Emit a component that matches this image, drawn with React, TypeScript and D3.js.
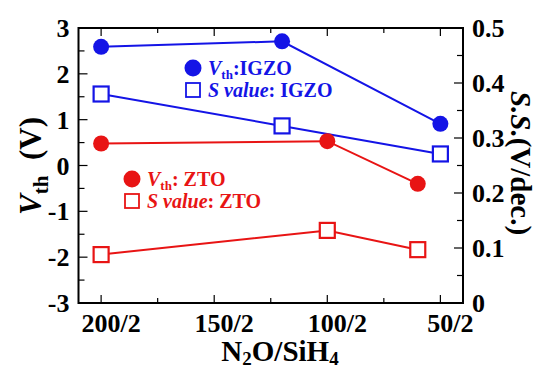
import React from 'react';
import * as d3 from 'd3';

// N2O flow ratios (x) for each material
const igzoRatio = [200, 120, 50];
const ztoRatio = [200, 100, 60];

// threshold voltage (V) and subthreshold swing (V/dec.)
const igzoVth = [2.59, 2.71, 0.91];
const igzoSS = [0.38, 0.322, 0.271];
const ztoVth = [0.48, 0.53, -0.4];
const ztoSS = [0.088, 0.132, 0.097];

const xMajor = [200, 150, 100, 50];
const xMinor = [175, 125, 75];
const xTickLabels = ['200/2', '150/2', '100/2', '50/2'];
const yLeftMajor = [-3, -2, -1, 0, 1, 2, 3];
const yLeftMinor = [-2.5, -1.5, -0.5, 0.5, 1.5, 2.5];
const yRightMajor = [0, 0.1, 0.2, 0.3, 0.4, 0.5];
const yRightMinor = [0.05, 0.15, 0.25, 0.35, 0.45];
const yRightLabels = ['0', '0.1', '0.2', '0.3', '0.4', '0.5'];

const BLUE = '#1414e6';
const RED = '#e81414';
const FONT = 'Liberation Serif';

const left = 78.5, right = 463, top = 28, bottom = 303;
const x = d3.scaleLinear().domain([210, 40]).range([left, right]);
const yL = d3.scaleLinear().domain([-3, 3]).range([bottom, top]);
const yR = d3.scaleLinear().domain([0, 0.5]).range([bottom, top]);

type Pt = [number, number];

function Series({ xs, ys, scale, color, shape }: {
  xs: number[]; ys: number[]; scale: d3.ScaleLinear<number, number>;
  color: string; shape: 'circle' | 'square';
}) {
  const pts: Pt[] = xs.map((v, i) => [v, ys[i]]);
  const line = d3.line<Pt>().x((d) => x(d[0])).y((d) => scale(d[1]));
  return (
    <g>
      <path d={line(pts) || ''} fill="none" stroke={color} strokeWidth={2} />
      {pts.map((d, i) =>
        shape === 'circle' ? (
          <circle key={i} cx={x(d[0])} cy={scale(d[1])} r={8} fill={color} />
        ) : (
          <rect key={i} x={x(d[0]) - 7.5} y={scale(d[1]) - 7.5} width={15} height={15}
            fill="#fff" stroke={color} strokeWidth={2.2} />
        )
      )}
    </g>
  );
}

function Legend({ cx, cy, color, mat }: { cx: number; cy: number; color: string; mat: string }) {
  return (
    <g>
      <circle cx={cx} cy={cy} r={8.5} fill={color} />
      <text x={cx + 15} y={cy + 7} fontFamily={FONT} fontWeight="bold" fontSize={20} fill={color}>
        <tspan fontStyle="italic">V</tspan>
        <tspan fontSize={13} dy={4}>th</tspan>
        <tspan dy={-4}>{mat === 'IGZO' ? ':IGZO' : ': ZTO'}</tspan>
      </text>
      <rect x={cx - 7} y={cy + 15} width={14} height={14} fill="#fff" stroke={color} strokeWidth={1.8} />
      <text x={cx + 15} y={cy + 29} fontFamily={FONT} fontWeight="bold" fontSize={20} fill={color}>
        <tspan fontStyle="italic">S value</tspan>
        <tspan>{`: ${mat}`}</tspan>
      </text>
    </g>
  );
}

export default function App() {
  const tick = { stroke: '#000', strokeWidth: 1.2 };
  const lbl = { fontFamily: FONT, fontWeight: 'bold' as const, fontSize: 26, fill: '#000' };
  return (
    <svg width={537} height={370} style={{ position: 'absolute', left: 0, top: 0, background: '#fff' }}>
      {/* x ticks, bottom and top, pointing inward */}
      {xMajor.map((v, i) => (
        <g key={'xM' + v}>
          <line x1={x(v)} x2={x(v)} y1={bottom} y2={bottom - 8} {...tick} />
          <line x1={x(v)} x2={x(v)} y1={top} y2={top + 8} {...tick} />
          <text x={x(v) + 10} y={bottom + 29} textAnchor="middle" {...lbl}>{xTickLabels[i]}</text>
        </g>
      ))}
      {xMinor.map((v) => (
        <g key={'xm' + v}>
          <line x1={x(v)} x2={x(v)} y1={bottom} y2={bottom - 5} {...tick} />
          <line x1={x(v)} x2={x(v)} y1={top} y2={top + 5} {...tick} />
        </g>
      ))}
      {/* left axis */}
      {yLeftMajor.map((v) => (
        <g key={'yl' + v}>
          <line x1={left} x2={left + 9} y1={yL(v)} y2={yL(v)} {...tick} />
          <text x={left - 9} y={yL(v) + 9} textAnchor="end" {...lbl}>{String(v)}</text>
        </g>
      ))}
      {yLeftMinor.map((v) => (
        <line key={'ylm' + v} x1={left} x2={left + 6} y1={yL(v)} y2={yL(v)} {...tick} />
      ))}
      {/* right axis */}
      {yRightMajor.map((v, i) => (
        <g key={'yr' + v}>
          <line x1={right} x2={right - 9} y1={yR(v)} y2={yR(v)} {...tick} />
          <text x={right + 9} y={yR(v) + 9} textAnchor="start" {...lbl}>{yRightLabels[i]}</text>
        </g>
      ))}
      {yRightMinor.map((v) => (
        <line key={'yrm' + v} x1={right} x2={right - 6} y1={yR(v)} y2={yR(v)} {...tick} />
      ))}

      <rect x={left} y={top} width={right - left} height={bottom - top}
        fill="none" stroke="#000" strokeWidth={2} />

      <Series xs={igzoRatio} ys={igzoVth} scale={yL} color={BLUE} shape="circle" />
      <Series xs={igzoRatio} ys={igzoSS} scale={yR} color={BLUE} shape="square" />
      <Series xs={ztoRatio} ys={ztoVth} scale={yL} color={RED} shape="circle" />
      <Series xs={ztoRatio} ys={ztoSS} scale={yR} color={RED} shape="square" />

      <Legend cx={193} cy={68} color={BLUE} mat="IGZO" />
      <Legend cx={132} cy={179} color={RED} mat="ZTO" />

      {/* axis titles */}
      <text transform="translate(41,166) rotate(-90)" textAnchor="middle"
        fontFamily={FONT} fontWeight="bold" fontSize={31}>
        <tspan fontStyle="italic">V</tspan>
        <tspan fontSize={21} dy={7}>th</tspan>
        <tspan dy={-7}>{'\u00a0 (V)'}</tspan>
      </text>
      <text transform="translate(511,163) rotate(90)" textAnchor="middle"
        fontFamily={FONT} fontWeight="bold" fontSize={29}>
        <tspan fontStyle="italic">S.S.</tspan>
        <tspan>(V/dec.)</tspan>
      </text>
      <text x={280} y={361} textAnchor="middle" fontFamily={FONT} fontWeight="bold" fontSize={29}>
        <tspan>N</tspan>
        <tspan fontSize={19} dy={4}>2</tspan>
        <tspan dy={-4}>O/SiH</tspan>
        <tspan fontSize={19} dy={4}>4</tspan>
      </text>
    </svg>
  );
}
